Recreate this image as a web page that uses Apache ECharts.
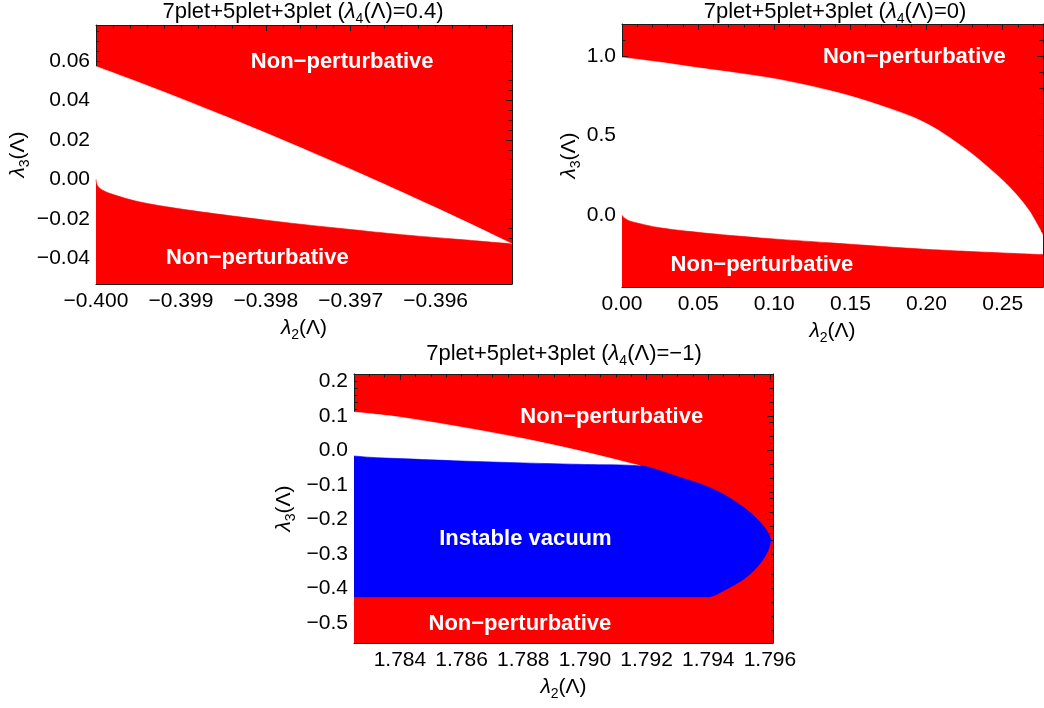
<!DOCTYPE html>
<html>
<head>
<meta charset="utf-8">
<script src="https://cdn.jsdelivr.net/npm/echarts@6/dist/echarts.min.js"></script>
<style>
  html, body { margin: 0; padding: 0; background: #ffffff; }
  #chart { width: 1044px; height: 708px; }
</style>
</head>
<body>
<div id="chart"></div>
<script>
// ---- Panel 1: lambda4 = 0.4 ----
const lam2Upper1 = [-0.4000, -0.3995, -0.3990, -0.3985, -0.3980, -0.3975, -0.3970, -0.3965, -0.3960, -0.3955, -0.3951];
const lam3Upper1 = [0.0572, 0.0492, 0.0409, 0.0323, 0.0235, 0.0144, 0.0051, -0.0045, -0.0143, -0.0244, -0.0327];
const lam2Lower1 = [-0.40000, -0.39999, -0.39995, -0.39983, -0.39948, -0.39889, -0.39829, -0.39770, -0.39700, -0.39640, -0.39570, -0.39510];
const lam3Lower1 = [0.0000, -0.0025, -0.0047, -0.0072, -0.0115, -0.0157, -0.0191, -0.0222, -0.0254, -0.0280, -0.0305, -0.0327];
const xTicks1 = [-0.400, -0.399, -0.398, -0.397, -0.396];
const yTicks1 = [-0.04, -0.02, 0.00, 0.02, 0.04, 0.06];

// ---- Panel 2: lambda4 = 0 ----
const lam2Upper2 = [0, 0.025, 0.05, 0.075, 0.10, 0.125, 0.15, 0.175, 0.19, 0.20, 0.21, 0.22, 0.23, 0.24, 0.25, 0.26, 0.268, 0.2765];
const lam3Upper2 = [0.990, 0.960, 0.925, 0.893, 0.857, 0.808, 0.748, 0.672, 0.620, 0.575, 0.520, 0.455, 0.385, 0.305, 0.220, 0.120, 0.020, -0.125];
const lam2Lower2 = [0, 0.001, 0.002, 0.0054, 0.0251, 0.058, 0.0907, 0.1367, 0.2023, 0.2765];
const lam3Lower2 = [0, -0.012, -0.020, -0.037, -0.079, -0.115, -0.142, -0.173, -0.215, -0.247];
const xTicks2 = [0.00, 0.05, 0.10, 0.15, 0.20, 0.25];
const yTicks2 = [0.0, 0.5, 1.0];

// ---- Panel 3: lambda4 = -1 ----
// upper perturbativity edge (left edge -> tip of the vacuum boundary)
const lam2Edge3 = [1.78251, 1.784, 1.786, 1.788, 1.790, 1.7918, 1.793, 1.794, 1.79459, 1.79510, 1.79546, 1.79575, 1.79595, 1.79605];
const lam3Edge3 = [0.1106, 0.096, 0.067, 0.034, -0.005, -0.045, -0.076, -0.106, -0.132, -0.162, -0.188, -0.215, -0.240, -0.264];
// top of the unstable-vacuum region until it meets the edge above
const lam2VacTop3 = [1.78251, 1.7830, 1.784, 1.786, 1.788, 1.790, 1.7918];
const lam3VacTop3 = [-0.0163, -0.0200, -0.024, -0.031, -0.0365, -0.041, -0.045];
// lower perturbativity edge (left edge -> tip)
const lam2Bottom3 = [1.78251, 1.794, 1.79459, 1.79510, 1.79546, 1.79575, 1.79595, 1.79605];
const lam3Bottom3 = [-0.426, -0.426, -0.404, -0.378, -0.352, -0.322, -0.292, -0.264];
const xTicks3 = [1.784, 1.786, 1.788, 1.790, 1.792, 1.794, 1.796];
const yTicks3 = [-0.5, -0.4, -0.3, -0.2, -0.1, 0.0, 0.1, 0.2];

const panelTitles = ['0.4', '0', '\u22121'];
const regionNames = { np: 'Non\u2212perturbative', iv: 'Instable vacuum' };

const RED = '#ff0000', BLUE = '#0000ff', WHITE = '#ffffff', FRAME = '#1a1a1a';
const FONT = '"Liberation Sans", Arial, Helvetica, sans-serif';
const TICK_FS = 21;

function zip(xs, ys) { return xs.map((x, i) => [x, ys[i]]); }
function minus(s) { return s.replace('-', '\u2212'); }
function minorValues(min, max, step) {
  const out = [];
  const start = Math.ceil(min / step - 1e-9);
  const end = Math.floor(max / step + 1e-9);
  for (let k = start; k <= end; k++) out.push(+(k * step).toFixed(8));
  return out;
}

const nameRich = {
  l: { fontSize: 21, lineHeight: 28, fontStyle: 'italic', fontFamily: FONT, color: '#000' },
  s: { fontSize: 14, lineHeight: 14, verticalAlign: 'bottom', fontFamily: FONT, color: '#000' },
  n: { fontSize: 21, lineHeight: 28, fontFamily: FONT, color: '#000' }
};
function lamName(sub) { return '{l|\u03bb}{s|' + sub + '}{n|(\u039b)}'; }

const grids = [
  { left: 96, top: 25, width: 416, height: 259 },
  { left: 622, top: 24, width: 421, height: 263 },
  { left: 354, top: 374, width: 419, height: 269 }
];
grids.forEach(g => { g.show = true; g.backgroundColor = RED; g.borderWidth = 0; });

const xAxes = [], yAxes = [];
function addFrame(gi, c) {
  const line = { show: true, onZero: false, lineStyle: { color: FRAME, width: 1 } };
  const noLine = { show: false, onZero: false };
  const lbl = (vals, fmt, margin) => ({ show: true, customValues: vals, formatter: fmt, margin: margin,
    fontSize: TICK_FS, color: '#000', fontFamily: FONT });
  const tick = (vals, len) => ({ show: true, inside: true, length: len, customValues: vals, lineStyle: { color: FRAME, width: 1 } });
  const base = { gridIndex: gi, type: 'value', splitLine: { show: false }, animation: false };
  const xMain = xAxes.length;
  const xMinors = minorValues(c.xMin, c.xMax, c.xMinor);
  xAxes.push(Object.assign({}, base, { min: c.xMin, max: c.xMax, position: 'bottom', axisLine: line,
    axisTick: tick(c.xTicks, 6), axisLabel: lbl(c.xTicks, v => minus(v.toFixed(c.xDec)), 7),
    name: lamName('2'), nameLocation: 'middle', nameGap: c.xNameGap, nameTextStyle: { rich: nameRich } }));
  xAxes.push(Object.assign({}, base, { min: c.xMin, max: c.xMax, position: 'top', axisLine: line,
    axisTick: tick(c.xTicks, 6), axisLabel: { show: false } }));
  xAxes.push(Object.assign({}, base, { min: c.xMin, max: c.xMax, position: 'bottom', axisLine: noLine,
    axisTick: tick(xMinors, 3.5), axisLabel: { show: false } }));
  xAxes.push(Object.assign({}, base, { min: c.xMin, max: c.xMax, position: 'top', axisLine: noLine,
    axisTick: tick(xMinors, 3.5), axisLabel: { show: false } }));
  const yMain = yAxes.length;
  const yMinors = minorValues(c.yMin, c.yMax, c.yMinor);
  yAxes.push(Object.assign({}, base, { min: c.yMin, max: c.yMax, position: 'left', axisLine: line,
    axisTick: tick(c.yTicks, 6), axisLabel: lbl(c.yTicks, v => minus(v.toFixed(c.yDec)), 6),
    name: lamName('3'), nameLocation: 'middle', nameGap: c.yNameGap, nameRotate: 90, nameTextStyle: { rich: nameRich } }));
  yAxes.push(Object.assign({}, base, { min: c.yMin, max: c.yMax, position: 'right', axisLine: line,
    axisTick: tick(c.yTicks, 6), axisLabel: { show: false } }));
  yAxes.push(Object.assign({}, base, { min: c.yMin, max: c.yMax, position: 'left', axisLine: noLine,
    axisTick: tick(yMinors, 3.5), axisLabel: { show: false } }));
  yAxes.push(Object.assign({}, base, { min: c.yMin, max: c.yMax, position: 'right', axisLine: noLine,
    axisTick: tick(yMinors, 3.5), axisLabel: { show: false } }));
  return { x: xMain, y: yMain };
}

const ax1 = addFrame(0, { xMin: -0.4, xMax: -0.3951, xTicks: xTicks1, xDec: 3, xMinor: 0.0002, xNameGap: 30,
  yMin: -0.0530, yMax: 0.0782, yTicks: yTicks1, yDec: 2, yMinor: 0.005, yNameGap: 64 });
const ax2 = addFrame(1, { xMin: 0, xMax: 0.2765, xTicks: xTicks2, xDec: 2, xMinor: 0.01, xNameGap: 30,
  yMin: -0.45, yMax: 1.2, yTicks: yTicks2, yDec: 1, yMinor: 0.1, yNameGap: 37 });
const ax3 = addFrame(2, { xMin: 1.78251, xMax: 1.7961, xTicks: xTicks3, xDec: 3, xMinor: 0.0005, xNameGap: 30,
  yMin: -0.558, yMax: 0.221, yTicks: yTicks3, yDec: 1, yMinor: 0.02, yNameGap: 56 });

// filled region below a boundary curve, down to the bottom of the frame
function area(ax, data, color) {
  return {
    type: 'line', xAxisIndex: ax.x, yAxisIndex: ax.y, data: data,
    smooth: 0.3,
    showSymbol: false, symbol: 'none', silent: true, animation: false,
    lineStyle: { width: 0.6, color: color },
    areaStyle: { color: color, opacity: 1, origin: 'start' }, z: 2
  };
}
function notes(ax, items) {
  return {
    type: 'scatter', xAxisIndex: ax.x, yAxisIndex: ax.y, symbolSize: 0, silent: true, animation: false, z: 5,
    itemStyle: { opacity: 1 },
    data: items.map(it => ({ value: [it[0], it[1]], name: it[2] })),
    label: { show: true, position: 'inside', formatter: p => p.name, color: '#ffffff', opacity: 1,
      textBorderWidth: 0, fontWeight: 'bold', fontSize: 22, fontFamily: FONT }
  };
}

// unstable vacuum outline: its own top, then the perturbativity edge beyond the junction
const junction = lam2VacTop3[lam2VacTop3.length - 1];
const vacOutline3 = zip(lam2VacTop3, lam3VacTop3).concat(zip(lam2Edge3, lam3Edge3).filter(p => p[0] > junction));
const allowed3 = zip(lam2Edge3, lam3Edge3).filter(p => p[0] <= junction);

const series = [
  area(ax1, zip(lam2Upper1, lam3Upper1), WHITE),
  area(ax1, zip(lam2Lower1, lam3Lower1), RED),
  notes(ax1, [[-0.3971, 0.0596, regionNames.np], [-0.3981, -0.0399, regionNames.np]]),
  area(ax2, zip(lam2Upper2, lam3Upper2), WHITE),
  area(ax2, zip(lam2Lower2, lam3Lower2), RED),
  notes(ax2, [[0.192, 0.992, regionNames.np], [0.0919, -0.309, regionNames.np]]),
  area(ax3, allowed3, WHITE),
  area(ax3, vacOutline3, BLUE),
  area(ax3, zip(lam2Bottom3, lam3Bottom3), RED),
  notes(ax3, [[1.79087, 0.0965, regionNames.np], [1.78807, -0.256, regionNames.iv], [1.78789, -0.502, regionNames.np]])
];

const titleRich = {
  l: { fontSize: 22, lineHeight: 28, fontStyle: 'italic', fontFamily: FONT, color: '#000' },
  s: { fontSize: 14, lineHeight: 14, verticalAlign: 'bottom', fontFamily: FONT, color: '#000' },
  n: { fontSize: 22, lineHeight: 28, fontFamily: FONT, color: '#000' }
};
function panelTitle(val, cx, top) {
  return {
    text: '{n|7plet+5plet+3plet (}{l|\u03bb}{s|4}{n|(\u039b)=' + val + ')}',
    left: cx, top: top, textAlign: 'center',
    textStyle: { rich: titleRich, fontSize: 22, fontWeight: 'normal', color: '#000' }, padding: 0
  };
}

const chart = echarts.init(document.getElementById('chart'), null, { renderer: 'canvas' });
chart.setOption({
  animation: false,
  backgroundColor: '#ffffff',
  title: [panelTitle(panelTitles[0], 303, -2), panelTitle(panelTitles[1], 835, -2), panelTitle(panelTitles[2], 564, 340)],
  grid: grids,
  xAxis: xAxes,
  yAxis: yAxes,
  series: series
});
</script>
</body>
</html>
